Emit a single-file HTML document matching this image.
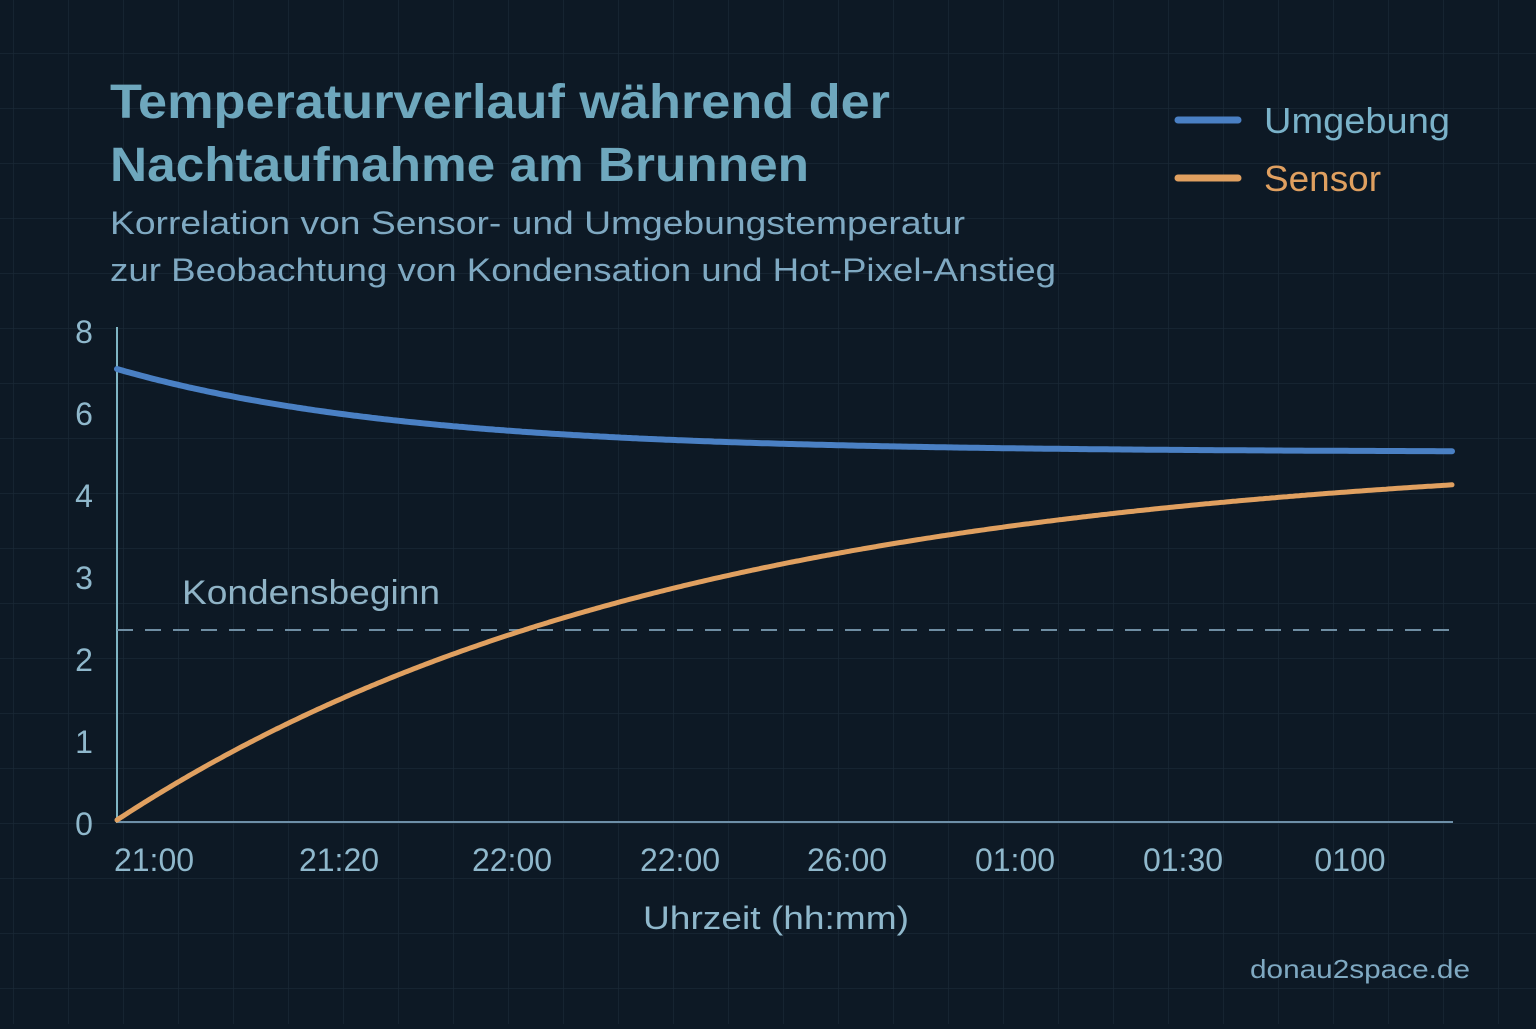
<!DOCTYPE html>
<html><head><meta charset="utf-8"><style>
body{margin:0;width:1536px;height:1024px;overflow:hidden;background:#0d1925;font-family:"Liberation Sans","DejaVu Sans",sans-serif;}
</style></head><body>
<svg width="1536" height="1024" xmlns="http://www.w3.org/2000/svg">
<defs><pattern id="g" width="55" height="55" patternUnits="userSpaceOnUse" x="13" y="-2">
<path d="M0 0H55M0 0V55" stroke="#1a2835" stroke-width="1.5" fill="none"/></pattern></defs>
<rect width="1536" height="1024" fill="#0d1925"/>
<rect width="1536" height="1024" fill="url(#g)"/>
<g fill="#6ea7bd">
<text x="110" y="118" font-size="48" font-weight="bold" textLength="780" lengthAdjust="spacingAndGlyphs">Temperaturverlauf während der</text>
<text x="110" y="181" font-size="48" font-weight="bold" textLength="699" lengthAdjust="spacingAndGlyphs">Nachtaufnahme am Brunnen</text>
</g>
<g fill="#7fa9c2" font-size="32">
<text x="110" y="234" textLength="855" lengthAdjust="spacingAndGlyphs">Korrelation von Sensor- und Umgebungstemperatur</text>
<text x="110" y="281" textLength="946" lengthAdjust="spacingAndGlyphs">zur Beobachtung von Kondensation und Hot-Pixel-Anstieg</text>
</g>
<line x1="1178" y1="120" x2="1238" y2="120" stroke="#4a80c4" stroke-width="7" stroke-linecap="round"/>
<line x1="1178" y1="178" x2="1238" y2="178" stroke="#e0a060" stroke-width="7" stroke-linecap="round"/>
<text x="1264" y="133" font-size="36" fill="#7ab2c9" textLength="186" lengthAdjust="spacingAndGlyphs">Umgebung</text>
<text x="1264" y="191" font-size="36" fill="#e0a060" textLength="117" lengthAdjust="spacingAndGlyphs">Sensor</text>
<g fill="#8fb8cc" font-size="32" text-anchor="middle">
<text x="84" y="343">8</text><text x="84" y="425">6</text><text x="84" y="507">4</text>
<text x="84" y="589">3</text><text x="84" y="671">2</text><text x="84" y="753">1</text><text x="84" y="835">0</text>
<text x="154" y="871">21:00</text><text x="339" y="871">21:20</text><text x="512" y="871">22:00</text>
<text x="680" y="871">22:00</text><text x="847" y="871">26:00</text><text x="1015" y="871">01:00</text>
<text x="1183" y="871">01:30</text><text x="1350" y="871">0100</text>
<text x="776" y="929" textLength="266" lengthAdjust="spacingAndGlyphs">Uhrzeit (hh:mm)</text>
</g>
<text x="1470" y="978" font-size="26" fill="#7fa9c2" text-anchor="end" textLength="220" lengthAdjust="spacingAndGlyphs">donau2space.de</text>
<line x1="117" y1="327" x2="117" y2="823" stroke="#7fb5c4" stroke-width="2"/>
<line x1="117" y1="822" x2="1453" y2="822" stroke="#6d8fa8" stroke-width="2"/>
<line x1="117" y1="630" x2="1453" y2="630" stroke="#6f8ea3" stroke-width="2" stroke-dasharray="16,12"/>
<text x="182" y="604" font-size="34" fill="#8fb3c6" textLength="258" lengthAdjust="spacingAndGlyphs">Kondensbeginn</text>
<path id="blue" stroke="#4a80c4" stroke-width="6" fill="none" stroke-linecap="round" stroke-linejoin="round"/>
<path id="orange" stroke="#e0a060" stroke-width="5" fill="none" stroke-linecap="round" stroke-linejoin="round"/>
</svg>
<script>
var b="",o="";
for(var x=117;x<=1452;x+=3){var t=x-117;
var yb=452-83*Math.exp(-t/288);
var yo=820-370*(1-Math.exp(-t/565));
b+=(x==117?"M":"L")+x+" "+yb.toFixed(1)+" ";
o+=(x==117?"M":"L")+x+" "+yo.toFixed(1)+" ";}
document.getElementById("blue").setAttribute("d",b);
document.getElementById("orange").setAttribute("d",o);
</script>
</body></html>
